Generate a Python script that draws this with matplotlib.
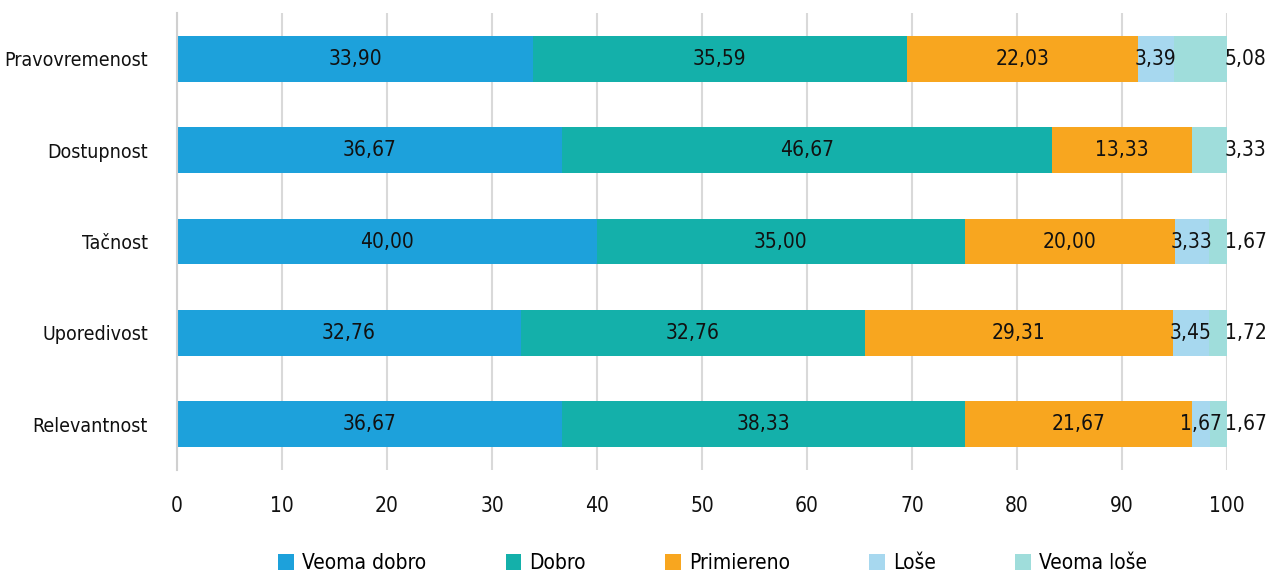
import matplotlib
matplotlib.use("Agg")
import matplotlib.pyplot as plt
import numpy as np
from matplotlib.patches import Patch

plt.rcParams['font.family'] = ['DejaVu Sans']
plt.rcParams['font.stretch'] = 'condensed'

categories = ["Pravovremenost", "Dostupnost", "Tačnost", "Uporedivost", "Relevantnost"]
series_names = ["Veoma dobro", "Dobro", "Primiereno", "Loše", "Veoma loše"]
veoma_dobro = [33.90, 36.67, 40.00, 32.76, 36.67]
dobro = [35.59, 46.67, 35.00, 32.76, 38.33]
primiereno = [22.03, 13.33, 20.00, 29.31, 21.67]
lose = [3.39, 0.0, 3.33, 3.45, 1.67]
veoma_lose = [5.08, 3.33, 1.67, 1.72, 1.67]
xticks = [0, 10, 20, 30, 40, 50, 60, 70, 80, 90, 100]

colors = ["#1da1db", "#14b0aa", "#f8a61f", "#a7d8ef", "#9fdddb"]
series = [veoma_dobro, dobro, primiereno, lose, veoma_lose]

fig = plt.figure(figsize=(12.66, 5.73), dpi=100)
ax = fig.add_axes([177/1266, 103/573, 1050/1266, 457/573])

y = np.arange(len(categories))
left = np.zeros(len(categories))
fs = 15
for si, (vals, c) in enumerate(zip(series, colors)):
    vals = np.array(vals)
    ax.barh(y, vals, left=left, height=0.5, color=c, zorder=2)
    for i, v in enumerate(vals):
        if v <= 0:
            continue
        lab = f"{v:.2f}".replace(".", ",")
        if si == 4:
            ax.text(left[i] + v - 0.2, y[i], lab, ha="left", va="center",
                    fontsize=fs, color="#111111", zorder=3)
        else:
            ax.text(left[i] + v / 2, y[i], lab, ha="center", va="center",
                    fontsize=fs, color="#111111", zorder=3)
    left = left + vals

ax.set_xlim(0, 100)
ax.set_ylim(len(categories) - 0.5, -0.5)
ax.set_yticks(y)
ax.set_yticklabels(categories, fontsize=14, color="#111111")
ax.set_xticks(xticks)
ax.set_xticklabels([str(t) for t in xticks], fontsize=fs, color="#111111")
ax.tick_params(axis="y", length=0, pad=21)
ax.tick_params(axis="x", length=0, pad=19)
ax.grid(axis="x", color="#d9d9d9", linewidth=1.5, zorder=0)
ax.set_axisbelow(True)
for s in ["top", "right", "bottom"]:
    ax.spines[s].set_visible(False)
ax.spines["left"].set_color("#d0d0d0")
ax.spines["left"].set_linewidth(1.5)

handles = [Patch(facecolor=c, edgecolor="none") for c in colors]
fig.legend(handles, series_names, loc="center", bbox_to_anchor=(0.563, 0.017),
           ncol=5, frameon=False, fontsize=fs, handlelength=0.75, handleheight=0.75,
           handletextpad=0.4, columnspacing=3.8, borderaxespad=0)

fig.savefig("out.png", dpi=100)
